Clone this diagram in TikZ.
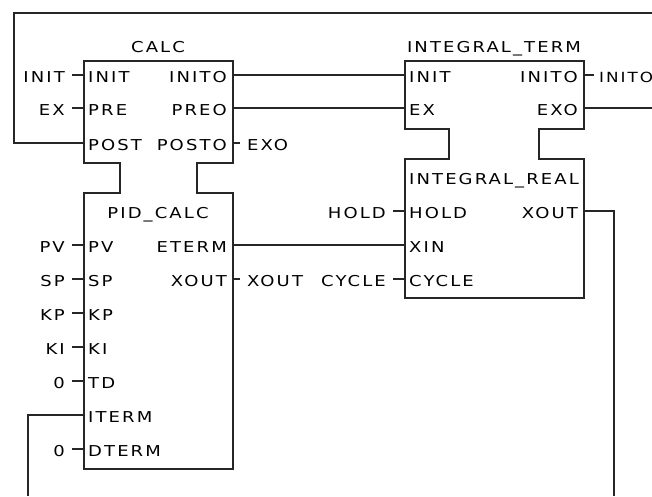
\documentclass[tikz,border=0pt]{standalone}
\usepackage{fontspec}
\setmainfont[FakeStretch=1.2,LetterSpace=14]{DejaVu Sans}
\usetikzlibrary{positioning}

\begin{document}
\begin{tikzpicture}[
      x=1pt, y=-1pt,
      node distance=12pt and 12pt,
      every node/.style={font=\fontsize{15}{17}\selectfont, text=black, inner ysep=0pt, text height=15pt, text depth=0pt},
      pinl/.style={anchor=west, inner xsep=4pt},
      pinr/.style={anchor=east, inner xsep=6pt},
      extl/.style={inner xsep=7pt},
      extr/.style={inner xsep=7pt},
      title/.style={anchor=center, inner xsep=0pt},
      block/.style={draw=black!85, line width=1.2pt, line join=miter},
      wire/.style={draw=black!85, line width=1.2pt}
    ]
      \useasboundingbox (0,0) rectangle (652,496);

      % Block outlines
      \draw[block] (84,61) -- (233,61) -- (233,163) -- (197,163) -- (197,193) -- (233,193) -- (233,469) -- (84,469) -- (84,193) -- (120,193) -- (120,163) -- (84,163) -- cycle;
      \draw[block] (405,61) -- (584,61) -- (584,129) -- (539,129) -- (539,159) -- (584,159) -- (584,298) -- (405,298) -- (405,159) -- (449,159) -- (449,129) -- (405,129) -- cycle;

      % Free ends of the long wires
      \coordinate (topLeft) at (14,13);
      \coordinate (topRight) at (652,13);
      \coordinate (itermEnd) at (28,496);
      \coordinate (xoutEnd) at (614,496);
      \coordinate (exoEnd) at (652,108);

      % CALC
      \node[title] (calcTitle) at (158,45) {CALC};
      \node[pinl] (calcInit) at (84,75) {INIT};
      \node[pinl] (calcPre) at (84,108) {PRE};
      \node[pinl] (calcPost) at (84,143) {POST};
      \node[pinr] (calcInito) at (233,75) {INITO};
      \node[pinr] (calcPreo) at (233,108) {PREO};
      \node[pinr] (calcPosto) at (233,143) {POSTO};
      \node[extl, left=of calcInit] (extInit) {INIT};
      \node[extl, left=of calcPre] (extEx) {EX};
      \node[extr, right=7pt of calcPosto] (extExo) {EXO};

      % PID_CALC
      \node[title] (pidTitle) at (158,211) {PID\_CALC};
      \node[pinl] (pidPv) at (84,245) {PV};
      \node[pinl] (pidSp) at (84,279) {SP};
      \node[pinl] (pidKp) at (84,313) {KP};
      \node[pinl] (pidKi) at (84,347) {KI};
      \node[pinl] (pidTd) at (84,381) {TD};
      \node[pinl] (pidIterm) at (84,415) {ITERM};
      \node[pinl] (pidDterm) at (84,449) {DTERM};
      \node[pinr] (pidEterm) at (233,245) {ETERM};
      \node[pinr] (pidXout) at (233,279) {XOUT};
      \node[extl, left=of pidPv] (extPv) {PV};
      \node[extl, left=of pidSp] (extSp) {SP};
      \node[extl, left=of pidKp] (extKp) {KP};
      \node[extl, left=of pidKi] (extKi) {KI};
      \node[extl, left=of pidTd] (extTd) {0};
      \node[extl, left=of pidDterm] (extDterm) {0};
      \node[extr, right=7pt of pidXout] (extXout) {XOUT};

      % INTEGRAL_TERM
      \node[title] (termTitle) at (494,45) {INTEGRAL\_TERM};
      \node[pinl] (termInit) at (405,75) {INIT};
      \node[pinl] (termEx) at (405,108) {EX};
      \node[pinr] (termInito) at (584,75) {INITO};
      \node[pinr] (termExo) at (584,108) {EXO};
      \node[extr, right=10pt of termInito, inner xsep=5pt, font=\fontsize{14}{16}\selectfont] (extInito) {INITO};

      % INTEGRAL_REAL
      \node[title] (realTitle) at (494,177) {INTEGRAL\_REAL};
      \node[pinl] (realHold) at (405,211) {HOLD};
      \node[pinl] (realXin) at (405,245) {XIN};
      \node[pinl] (realCycle) at (405,279) {CYCLE};
      \node[pinr] (realXout) at (584,211) {XOUT};
      \node[extl, left=of realHold] (extHold) {HOLD};
      \node[extl, left=of realCycle] (extCycle) {CYCLE};

      % Short stubs
      \draw[wire] (extInit) -- (calcInit);
      \draw[wire] (extEx) -- (calcPre);
      \draw[wire] (calcPosto) -- (extExo);
      \draw[wire] (extPv) -- (pidPv);
      \draw[wire] (extSp) -- (pidSp);
      \draw[wire] (extKp) -- (pidKp);
      \draw[wire] (extKi) -- (pidKi);
      \draw[wire] (extTd) -- (pidTd);
      \draw[wire] (extDterm) -- (pidDterm);
      \draw[wire] (pidXout) -- (extXout);
      \draw[wire] (termInito) -- (extInito);
      \draw[wire] (extHold) -- (realHold);
      \draw[wire] (extCycle) -- (realCycle);

      % Connecting wires
      \draw[wire] (calcInito) -- (termInit);
      \draw[wire] (calcPreo) -- (termEx);
      \draw[wire] (pidEterm) -- (realXin);
      \draw[wire] (termExo) -- (exoEnd);
      \draw[wire] (calcPost.west) -| (topLeft) -- (topRight);
      \draw[wire] (pidIterm.west) -| (itermEnd);
      \draw[wire] (realXout.east) -| (xoutEnd);
    \end{tikzpicture}
\end{document}
